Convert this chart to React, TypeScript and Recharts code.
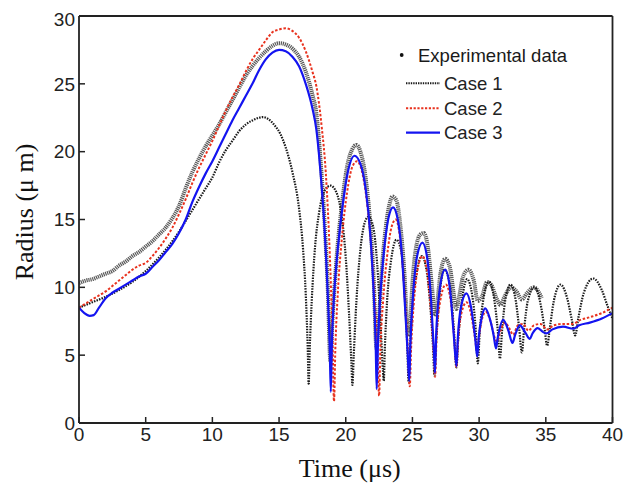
import React from 'react';
import { LineChart, Line, XAxis, YAxis, Legend, Label } from 'recharts';

// Time axis ticks (µs) and radius axis ticks (µm)
const timeTicks = [0, 5, 10, 15, 20, 25, 30, 35, 40];
const radiusTicks = [0, 5, 10, 15, 20, 25, 30];

// Experimental data
const expTime = [0, 0.5, 1, 1.5, 2, 2.5, 3, 3.5, 4, 4.5, 5, 5.5, 6, 6.5, 7, 7.5, 8, 8.5, 9, 9.5, 10, 10.5, 11, 11.5, 12, 12.5, 13, 13.5, 14, 14.5, 15, 15.5, 16, 16.5, 17, 17.5, 17.8, 18.1, 18.4, 18.65, 18.85, 19.0, 19.3, 19.7, 20.1, 20.5, 20.8, 21.1, 21.5, 21.85, 22.1, 22.3, 22.45, 22.65, 22.95, 23.25, 23.5, 23.8, 24.1, 24.4, 24.6, 24.8, 24.95, 25.25, 25.6, 25.85, 26.15, 26.45, 26.7, 26.85, 27.1, 27.45, 27.8, 28.1, 28.3, 28.5, 28.8, 29.2, 29.6, 29.9, 30.2, 30.6, 30.9, 31.3, 31.6, 31.9, 32.4, 32.8, 33.2, 33.6, 34.1, 34.5, 34.7];
const expRadius = [10.3, 10.5, 10.6, 10.8, 11.0, 11.2, 11.6, 11.9, 12.3, 12.6, 13.0, 13.4, 13.9, 14.4, 15.1, 16.0, 17.3, 18.5, 19.5, 20.4, 21.2, 22.0, 22.9, 23.8, 24.7, 25.6, 26.3, 26.9, 27.4, 27.8, 28.0, 27.9, 27.6, 27.0, 25.9, 24.2, 22.8, 19.5, 15.0, 10.0, 4.5, 7.5, 12.0, 16.0, 18.9, 20.2, 20.5, 20.0, 18.0, 14.5, 10.5, 5.5, 7.0, 10.5, 14.0, 16.0, 16.7, 16.4, 14.5, 11.0, 7.5, 6.5, 9.5, 12.8, 13.9, 14.0, 13.0, 10.2, 8.0, 8.8, 11.0, 12.1, 11.5, 9.5, 8.4, 9.3, 10.8, 11.3, 10.5, 9.0, 9.3, 10.4, 10.2, 9.2, 8.7, 9.3, 10.0, 9.7, 9.1, 9.6, 10.0, 9.6, 9.2];

// Case 1
const case1Time = [0, 1, 2, 3, 4, 5, 6, 7, 7.5, 8, 8.5, 9, 9.5, 10, 10.5, 11, 11.5, 12, 12.5, 13, 13.5, 13.8, 14.2, 14.7, 15.1, 15.5, 16.0, 16.5, 16.8, 17.0, 17.15, 17.22, 17.3, 17.45, 17.7, 18.0, 18.4, 18.85, 19.3, 19.7, 20.0, 20.25, 20.42, 20.5, 20.6, 20.8, 21.1, 21.4, 21.7, 22.05, 22.35, 22.6, 22.78, 22.85, 22.93, 23.1, 23.4, 23.8, 24.15, 24.4, 24.6, 24.72, 24.82, 25.0, 25.3, 25.7, 26.05, 26.35, 26.55, 26.65, 26.75, 26.95, 27.4, 27.8, 28.1, 28.3, 28.42, 28.65, 29.1, 29.5, 29.75, 29.9, 30.05, 30.3, 30.75, 31.15, 31.4, 31.56, 31.72, 31.95, 32.35, 32.75, 33.0, 33.2, 33.38, 33.65, 34.15, 34.6, 34.9, 35.1, 35.3, 35.6, 36.1, 36.6, 36.95, 37.2, 37.45, 37.85, 38.55, 39.2, 39.6, 40];
const case1Radius = [8.5, 8.9, 9.3, 9.8, 10.4, 11.2, 12.2, 13.4, 14.1, 14.9, 15.7, 16.5, 17.3, 18.1, 19.2, 20.1, 20.8, 21.5, 22.0, 22.3, 22.5, 22.55, 22.4, 21.9, 21.3, 20.3, 18.5, 15.8, 12.8, 9.5, 5.5, 2.9, 5.5, 9.0, 13.0, 15.5, 17.1, 17.5, 17.0, 15.2, 12.2, 8.0, 4.5, 2.8, 5.0, 9.0, 12.8, 14.7, 15.2, 14.5, 11.8, 7.5, 4.0, 3.1, 5.5, 9.0, 12.0, 13.5, 12.7, 10.0, 6.0, 3.0, 5.5, 8.5, 11.0, 12.3, 11.3, 8.5, 5.5, 3.5, 5.5, 8.5, 11.3, 10.2, 7.0, 4.1, 6.0, 8.5, 10.6, 9.3, 6.8, 4.4, 6.8, 9.0, 10.4, 9.0, 6.8, 4.75, 6.8, 9.0, 10.2, 9.0, 7.0, 5.2, 7.0, 9.0, 10.0, 8.8, 7.0, 5.7, 7.0, 9.0, 10.2, 9.2, 7.6, 6.45, 7.8, 9.6, 10.65, 9.8, 8.7, 7.7];

// Case 2
const case2Time = [0, 0.5, 1, 1.5, 2, 2.5, 3, 3.5, 4, 4.5, 5, 5.5, 6, 6.5, 7, 7.5, 8, 8.5, 9, 9.5, 10, 10.5, 11, 11.5, 12, 12.5, 13, 13.5, 14, 14.5, 15, 15.5, 16, 16.5, 17, 17.5, 17.8, 18.2, 18.5, 18.8, 19.0, 19.12, 19.22, 19.4, 19.7, 20.1, 20.5, 20.85, 21.2, 21.6, 21.95, 22.2, 22.4, 22.5, 22.6, 22.8, 23.1, 23.45, 23.75, 24.05, 24.35, 24.6, 24.8, 24.9, 25.1, 25.4, 25.75, 26.1, 26.4, 26.6, 26.7, 26.8, 27.05, 27.5, 27.9, 28.15, 28.3, 28.42, 28.7, 29.06, 29.4, 29.7, 29.85, 29.97, 30.2, 30.5, 30.85, 31.2, 31.35, 31.6, 31.95, 32.3, 32.55, 32.9, 33.3, 33.7, 34.1, 34.6, 35.1, 35.6, 36.3, 37.0, 37.6, 38.3, 39.2, 40];
const case2Radius = [8.5, 8.8, 9.1, 9.4, 9.7, 10.1, 10.5, 10.9, 11.3, 11.6, 11.8, 12.3, 12.9, 13.6, 14.4, 15.4, 16.5, 17.7, 18.8, 19.8, 20.8, 21.9, 23.0, 24.0, 24.9, 25.9, 26.8, 27.5, 28.2, 28.8, 29.0, 29.1, 28.9, 28.4, 27.4, 25.9, 24.8, 21.8, 18.5, 12.5, 6.5, 1.6, 5.5, 9.5, 13.5, 17.0, 18.9, 19.3, 18.6, 16.2, 12.5, 8.5, 4.5, 2.0, 5.5, 9.0, 12.3, 14.5, 15.0, 13.8, 10.5, 6.5, 2.7, 5.5, 8.8, 11.4, 12.3, 11.2, 8.0, 5.0, 3.4, 6.0, 8.8, 10.2, 8.8, 6.0, 4.1, 6.0, 8.2, 8.9, 8.0, 6.2, 5.2, 6.2, 7.6, 8.2, 7.5, 6.2, 6.0, 6.8, 7.4, 6.9, 6.5, 7.2, 7.3, 6.8, 7.2, 7.3, 6.9, 7.2, 7.3, 7.3, 7.6, 7.8, 8.1, 8.5];

// Case 3
const case3Time = [0, 0.4, 0.8, 1.1, 1.5, 2, 2.5, 3, 3.5, 4, 4.5, 5, 5.5, 6, 6.5, 7, 7.5, 8, 8.5, 9, 9.5, 10, 10.5, 11, 11.5, 12, 12.5, 13, 13.5, 14, 14.5, 15, 15.5, 16, 16.5, 17, 17.5, 17.8, 18.1, 18.4, 18.65, 18.8, 18.88, 18.95, 19.1, 19.4, 19.8, 20.2, 20.65, 21.1, 21.5, 21.85, 22.1, 22.25, 22.32, 22.42, 22.6, 22.9, 23.2, 23.55, 23.9, 24.2, 24.45, 24.65, 24.76, 24.85, 25.05, 25.35, 25.75, 26.1, 26.4, 26.6, 26.69, 26.78, 27.0, 27.45, 27.8, 28.1, 28.3, 28.4, 28.65, 29.05, 29.4, 29.7, 29.86, 29.97, 30.2, 30.46, 30.8, 31.1, 31.26, 31.4, 31.8, 32.2, 32.5, 32.7, 33.05, 33.5, 33.8, 34.0, 34.4, 34.8, 35.05, 35.5, 36.3, 37.06, 37.5, 38.3, 39.2, 40];
const case3Radius = [8.5, 8.1, 7.9, 7.95, 8.5, 9.2, 9.6, 9.9, 10.2, 10.5, 10.8, 11.0, 11.5, 12.0, 12.6, 13.2, 14.0, 15.0, 16.3, 17.4, 18.4, 19.3, 20.3, 21.3, 22.3, 23.2, 24.1, 25.0, 26.0, 26.8, 27.3, 27.5, 27.4, 27.0, 26.3, 25.0, 23.2, 21.6, 18.6, 14.5, 9.5, 5.5, 2.3, 5.5, 9.0, 12.8, 16.3, 18.7, 19.7, 19.1, 17.2, 13.8, 9.5, 5.5, 2.5, 6.0, 9.5, 13.0, 15.1, 15.9, 15.0, 12.5, 8.5, 5.0, 3.1, 6.0, 9.5, 12.3, 13.3, 12.2, 9.0, 5.5, 3.7, 6.5, 9.5, 11.3, 10.0, 6.5, 4.2, 6.2, 8.6, 9.55, 8.5, 6.3, 4.9, 6.3, 7.8, 8.45, 7.7, 6.4, 5.5, 6.3, 7.6, 6.8, 5.9, 6.5, 7.2, 6.6, 6.2, 6.6, 7.0, 6.7, 6.6, 6.9, 7.1, 6.95, 7.2, 7.4, 7.7, 8.1];

const seriesNames = ['Experimental data', 'Case 1', 'Case 2', 'Case 3'];

const toPoints = (ts: number[], rs: number[]) => ts.map((t, i) => ({ t, r: rs[i] }));
const expData = toPoints(expTime, expRadius);
const case1Data = toPoints(case1Time, case1Radius);
const case2Data = toPoints(case2Time, case2Radius);
const case3Data = toPoints(case3Time, case3Radius);

const SANS = '"Liberation Sans", Arial, Helvetica, sans-serif';
const SERIF = '"Liberation Serif", "Times New Roman", serif';
const AXIS = '#222';
const BLACK = '#1a1a1a';
const RED = '#e8321e';
const BLUE = '#1414f0';

const LegendBox = () => (
  <svg width={210} height={112} style={{ display: 'block', overflow: 'visible' }}>
    <circle cx={8.7} cy={17} r={1.9} fill="#111" />
    <text x={25} y={23.5} fontFamily={SANS} fontSize={18.5} fill="#1a1a1a">{seriesNames[0]}</text>
    <line x1={13} x2={47} y1={45.3} y2={45.3} stroke={BLACK} strokeWidth={2} strokeDasharray="1.4 1" />
    <text x={51} y={51.8} fontFamily={SANS} fontSize={18.5} fill="#222">{seriesNames[1]}</text>
    <line x1={13} x2={47} y1={70.3} y2={70.3} stroke={RED} strokeWidth={2} strokeDasharray="2.2 1.6" />
    <text x={51} y={76.8} fontFamily={SANS} fontSize={18.5} fill="#222">{seriesNames[2]}</text>
    <line x1={13} x2={47} y1={94.7} y2={94.7} stroke={BLUE} strokeWidth={2.2} />
    <text x={51} y={101.2} fontFamily={SANS} fontSize={18.5} fill="#222">{seriesNames[3]}</text>
  </svg>
);

export default function App() {
  return (
    <LineChart
      width={620}
      height={476}
      margin={{ top: 7, right: 14.5, bottom: 0, left: 0 }}
    >
      <XAxis
        xAxisId="bottom"
        dataKey="t"
        type="number"
        domain={[0, 40]}
        ticks={timeTicks}
        allowDataOverflow
        height={61}
        tickSize={-6}
        tickMargin={11}
        axisLine={{ stroke: AXIS, strokeWidth: 1.8 }}
        tickLine={{ stroke: AXIS, strokeWidth: 1.5 }}
        tick={{ fontFamily: SANS, fontSize: 19, fill: '#222' }}
      >
        <Label
          content={(props: any) => {
            const vb = props.viewBox || { x: 71, y: 415, width: 533.5 };
            return (
              <text
                x={vb.x + vb.width / 2 + 4}
                y={vb.y + 53.5}
                textAnchor="middle"
                fontFamily={SERIF}
                fontSize={26}
                fill="#111"
              >
                Time (μs)
              </text>
            );
          }}
        />
      </XAxis>
      <XAxis
        xAxisId="top"
        orientation="top"
        type="number"
        domain={[0, 40]}
        ticks={timeTicks}
        height={1}
        tick={false}
        tickSize={-6}
        axisLine={{ stroke: AXIS, strokeWidth: 1.8 }}
        tickLine={{ stroke: AXIS, strokeWidth: 1.5 }}
      />
      <YAxis
        yAxisId="left"
        type="number"
        domain={[0, 30]}
        ticks={radiusTicks}
        width={71}
        tickSize={-6}
        tickMargin={10}
        axisLine={{ stroke: AXIS, strokeWidth: 1.8 }}
        tickLine={{ stroke: AXIS, strokeWidth: 1.5 }}
        tick={{ fontFamily: SANS, fontSize: 19, fill: '#222' }}
      >
        <Label
          content={(props: any) => {
            const vb = props.viewBox || { x: 0, y: 8, height: 407 };
            const cx = 25;
            const cy = vb.y + vb.height / 2 - 7.5;
            return (
              <text
                x={cx}
                y={cy}
                transform={`rotate(-90, ${cx}, ${cy})`}
                textAnchor="middle"
                fontFamily={SERIF}
                fontSize={26}
                fill="#111"
              >
                Radius (μ m)
              </text>
            );
          }}
        />
      </YAxis>
      <YAxis
        yAxisId="right"
        orientation="right"
        type="number"
        domain={[0, 30]}
        ticks={radiusTicks}
        width={1}
        tick={false}
        tickSize={-6}
        axisLine={{ stroke: AXIS, strokeWidth: 1.8 }}
        tickLine={{ stroke: AXIS, strokeWidth: 1.5 }}
      />
      <Legend
        layout="horizontal"
        verticalAlign="middle"
        align="center"
        wrapperStyle={{ position: 'absolute', left: 385, top: 30, width: 210, height: 112 }}
        content={() => <LegendBox />}
      />
      <Line
        xAxisId="bottom"
        yAxisId="left"
        data={expData}
        dataKey="r"
        name={seriesNames[0]}
        type="monotone"
        stroke="#2e2e2e"
        strokeWidth={4}
        strokeDasharray="1.2 0.8"
        strokeOpacity={0.8}
        dot={false}
        activeDot={false}
        isAnimationActive={false}
      />
      <Line
        xAxisId="bottom"
        yAxisId="left"
        data={case1Data}
        dataKey="r"
        name={seriesNames[1]}
        type="monotone"
        stroke={BLACK}
        strokeWidth={2.2}
        strokeDasharray="1.5 1.2"
        dot={false}
        activeDot={false}
        isAnimationActive={false}
      />
      <Line
        xAxisId="bottom"
        yAxisId="left"
        data={case2Data}
        dataKey="r"
        name={seriesNames[2]}
        type="monotone"
        stroke={RED}
        strokeWidth={2}
        strokeDasharray="2.5 1.8"
        dot={false}
        activeDot={false}
        isAnimationActive={false}
      />
      <Line
        xAxisId="bottom"
        yAxisId="left"
        data={case3Data}
        dataKey="r"
        name={seriesNames[3]}
        type="monotone"
        stroke={BLUE}
        strokeWidth={2.2}
        dot={false}
        activeDot={false}
        isAnimationActive={false}
      />
    </LineChart>
  );
}
